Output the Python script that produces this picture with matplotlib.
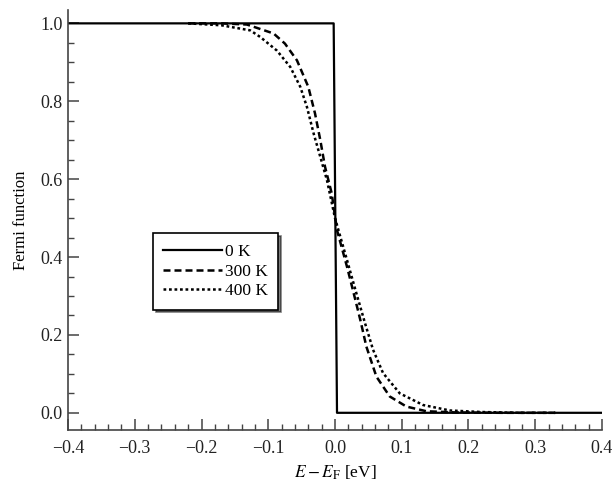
# Fermi function at 0 K, 300 K and 400 K
import matplotlib.pyplot as plt
from matplotlib.ticker import MultipleLocator

plt.rcParams['font.family'] = ['Liberation Serif', 'DejaVu Serif']
plt.rcParams['mathtext.fontset'] = 'stix'

# 0 K step
e_0k = [-0.4, -0.002, 0.003, 0.4]
f_0k = [1.0, 1.0, 0.0, 0.0]

# 300 K (dashed)
e_300k = [-0.22, -0.17, -0.132, -0.092, -0.075, -0.057, -0.040, -0.030, -0.022,
          -0.015, -0.005, 0.003, 0.018, 0.028, 0.038, 0.047, 0.062, 0.082,
          0.107, 0.137, 0.18, 0.25, 0.33]
f_300k = [1.0, 1.0, 0.997, 0.974, 0.948, 0.905, 0.837, 0.769, 0.70,
          0.632, 0.564, 0.469, 0.375, 0.307, 0.238, 0.17, 0.093, 0.042,
          0.016, 0.004, 0.001, 0.0, 0.0]

# 400 K (dotted)
e_400k = [-0.22, -0.17, -0.127, -0.112, -0.087, -0.067, -0.052, -0.042, -0.032,
          -0.022, -0.012, 0.0, 0.018, 0.032, 0.045, 0.057, 0.072, 0.097,
          0.132, 0.172, 0.22, 0.28, 0.33]
f_400k = [1.0, 0.995, 0.982, 0.965, 0.93, 0.888, 0.837, 0.785, 0.717,
          0.657, 0.597, 0.50, 0.392, 0.307, 0.23, 0.162, 0.102, 0.05,
          0.02, 0.006, 0.002, 0.0, 0.0]

fig = plt.figure(figsize=(6.13, 4.82), dpi=100)
ax = fig.add_axes([0.111, 0.108, 0.871, 0.871])

ax.plot(e_0k, f_0k, color='black', lw=1.6, label='0 K')
ax.plot(e_300k, f_300k, color='black', lw=1.8, ls=(0, (2.8, 1.6)), label='300 K')
ax.plot(e_400k, f_400k, color='black', lw=1.8, ls=(0, (1.1, 1.1)), label='400 K')

ax.set_xlim(-0.4, 0.4)
ax.set_ylim(-0.044, 1.034)
ax.xaxis.set_major_locator(MultipleLocator(0.1))
ax.xaxis.set_minor_locator(MultipleLocator(0.02))
ax.yaxis.set_major_locator(MultipleLocator(0.2))
ax.yaxis.set_minor_locator(MultipleLocator(0.05))
ax.xaxis.set_major_formatter(lambda v, p: f'{v:.1f}'.replace('-', '\u2212'))
ax.yaxis.set_major_formatter(lambda v, p: f'{v:.1f}')

ax.spines['top'].set_visible(False)
ax.spines['right'].set_visible(False)
for s in ['left', 'bottom']:
    ax.spines[s].set_color('#444444')
    ax.spines[s].set_linewidth(1.2)

ax.tick_params(which='major', direction='in', length=8, width=1.1,
               color='#444444', labelsize=13, labelcolor='#222222')
ax.tick_params(axis='x', which='major', pad=7)
ax.tick_params(axis='y', which='major', pad=4)
ax.tick_params(which='minor', direction='in', length=4, width=1.0, color='#444444')

ax.set_xlabel(r'$E - E_{\mathrm{F}}$ [eV]', fontsize=12.5, labelpad=5)
ax.set_ylabel('Fermi function', fontsize=12, labelpad=8)

leg = ax.legend(loc='upper left', bbox_to_anchor=(0.159, 0.468), borderaxespad=0,
                fontsize=12.5, frameon=True, fancybox=False,
                shadow={'color': 'black'}, handlelength=3.4, handletextpad=0.15,
                labelspacing=0.2, borderpad=0.6)
leg.get_frame().set_edgecolor('black')
leg.get_frame().set_linewidth(1.2)
leg.get_frame().set_alpha(1)

plt.savefig('out.png', dpi=100)
